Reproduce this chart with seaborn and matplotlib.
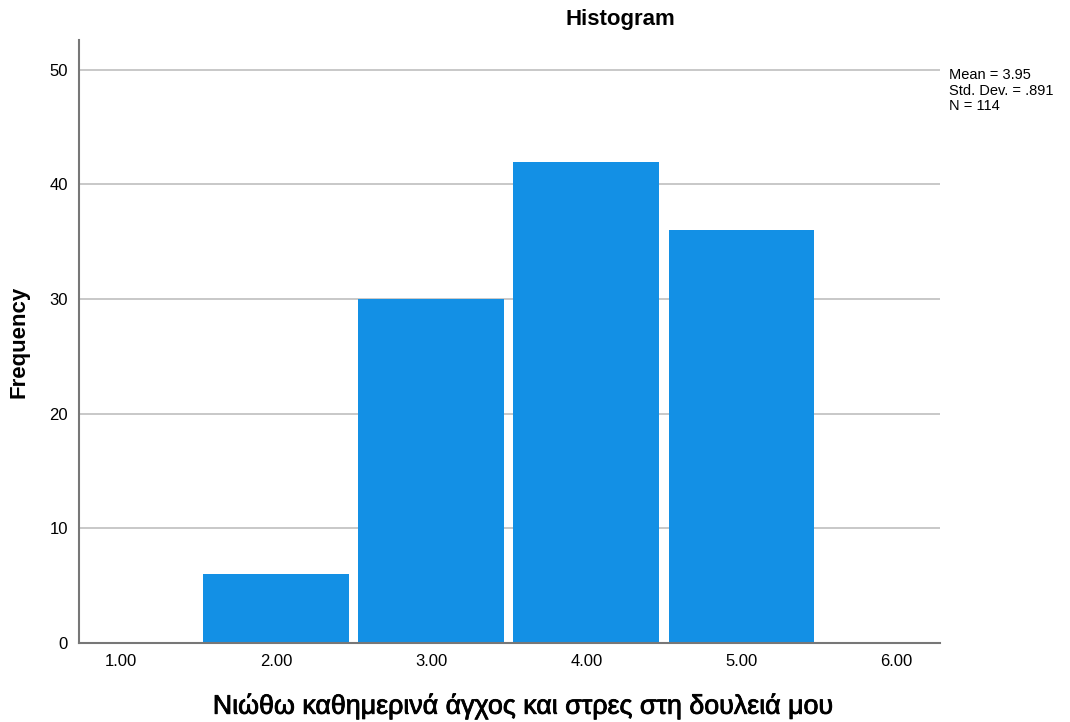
import matplotlib
matplotlib.use("Agg")
import matplotlib.pyplot as plt
import matplotlib.patheffects as pe
import seaborn as sns

# Τιμές κλίμακας και συχνότητες
scores = [2, 3, 4, 5]
counts = [6, 30, 42, 36]
xticks = [1, 2, 3, 4, 5, 6]
yticks = [0, 10, 20, 30, 40, 50]
stats_text = "Mean = 3.95\nStd. Dev. = .891\nN = 114"

sns.set_style("white")
plt.rcParams["font.family"] = ["Liberation Sans", "DejaVu Sans"]
plt.rcParams["text.color"] = "black"

fig = plt.figure(figsize=(10.7, 7.22), dpi=100)
ax = fig.add_axes([79 / 1070, 1 - 643 / 722, (940 - 79) / 1070, (643 - 40) / 722])

ax.yaxis.grid(True, color="#c8c8c8", linewidth=1.4)
ax.set_axisbelow(True)

sns.histplot(x=scores, weights=counts, discrete=True, shrink=0.94,
             color="#1390e5", alpha=1, edgecolor="none", ax=ax)

ax.set_xlim(0.73, 6.28)
ax.set_ylim(0, 52.6)
ax.set_xticks(xticks)
ax.set_xticklabels([f"{v:.2f}" for v in xticks])
ax.set_yticks(yticks)
ax.tick_params(axis="both", length=0, labelsize=12, colors="black", pad=8)

for side in ["top", "right"]:
    ax.spines[side].set_visible(False)
for side in ["left", "bottom"]:
    ax.spines[side].set_color("#777777")
    ax.spines[side].set_linewidth(1.5)

# SPSS-style title, sitting a bit right of the axes centre
fig.text(620 / 1070, 1 - 20 / 722, "Histogram", fontsize=16, fontweight="bold",
         ha="center", va="center")
ax.set_ylabel("Frequency", fontsize=16, fontweight="bold", color="black", labelpad=14)
xl = ax.set_xlabel("Νιώθω καθημερινά άγχος και στρες στη δουλειά μου", fontsize=19.3,
                   color="black")
xl.set_path_effects([pe.withStroke(linewidth=0.6, foreground="black")])
ax.xaxis.set_label_coords(0.5145, -0.1045)
xl.set_va("center")

fig.text(949 / 1070, 1 - 68 / 722, stats_text, fontsize=10.5, va="top", ha="left",
         linespacing=1.15)

fig.savefig("out.png", dpi=100)
